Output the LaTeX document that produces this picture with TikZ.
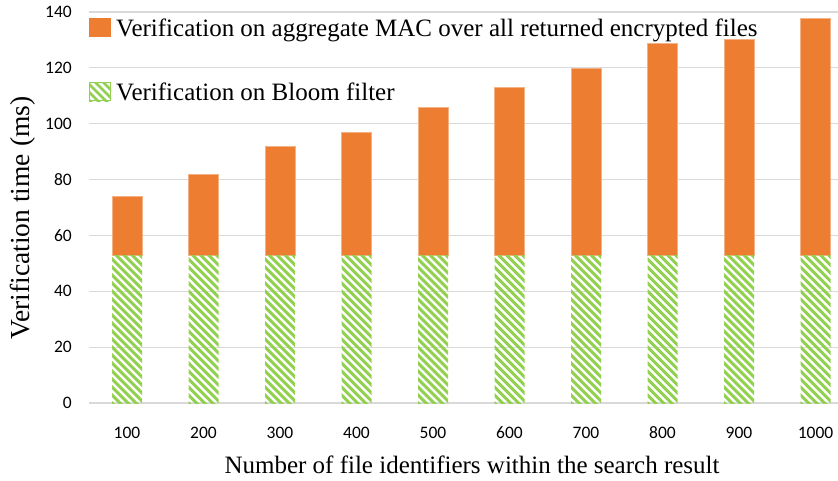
\documentclass[tikz,border=0pt]{standalone}
\usepackage{fontspec}
\setmainfont{Liberation Serif}
\newfontfamily\tickfont{Carlito}
\definecolor{barorange}{HTML}{ED7D31}
\definecolor{bargreen}{HTML}{92D050}
\definecolor{gridgray}{HTML}{D9D9D9}
\tikzset{
  gridline/.style={draw=gridgray, line width=1.2pt},
  ticklabel/.style={font=\tickfont\fontsize{17.5}{20}\selectfont, inner sep=0pt},
  titlelabel/.style={font=\fontsize{25}{28}\selectfont, inner sep=0pt},
  macbar/.style={fill=barorange, draw=barorange!60!white, line width=0.6pt},
  stripe/.style={draw=bargreen, line width=3pt},
}
\begin{document}
\begin{tikzpicture}[x=1pt,y=-1pt]
\useasboundingbox (0,0) rectangle (838,480);

% value axis: 0 at y=403, 2.793 units per ms (pointing up)
\begin{scope}[shift={(0,403)}, y=2.793pt]
  \foreach \v in {0,20,...,140} {
    \draw[gridline] (89,\v) -- (838,\v);
    \node[ticklabel, anchor=east] (ytick\v) at (72,\v) {\v};
  }
  % upper (MAC) segments, from 53 ms up to the total
  \foreach \i/\v in {1/74,2/82,3/92,4/97,5/106,6/113,7/120,8/128.8,9/130.3,10/137.8} {
    \pgfmathsetmacro{\cx}{127+76.5*(\i-1)}
    \path[macbar] (\cx-15,53) rectangle (\cx+15,\v);
  }
\end{scope}

% lower (Bloom filter) segments, hatched, 0..53 ms  => y 255..403
\foreach \i in {1,...,10} {
  \pgfmathsetmacro{\cx}{127+76.5*(\i-1)}
  \begin{scope}
    \clip (\cx-15,255) rectangle (\cx+15,403);
    \foreach \k in {-160,-152,...,24} {
      \draw[stripe] (\cx-15+\k,251) -- ++(170,170);
    }
  \end{scope}
  \node[ticklabel] (xtick\i) at (\cx,433) {\the\numexpr\i*100\relax};
}

% legend
\path[fill=barorange] (89,18) rectangle (111,37);
\node[titlelabel, anchor=base west] (legmac) at (116,36)
  {Verification on aggregate MAC over all returned encrypted files};
\begin{scope}
  \clip (89,82) rectangle (111,101);
  \foreach \k in {-30,-22,...,30} {
    \draw[stripe, line width=2.6pt] (89+\k,78) -- ++(30,30);
  }
\end{scope}
\draw[bargreen, line width=1pt] (89.5,82.5) rectangle (110.5,100.5);
\node[titlelabel, anchor=base west] (legbloom) at (116,100)
  {Verification on Bloom filter};

% axis titles
\node[titlelabel, font=\fontsize{27.5}{30}\selectfont, rotate=90] (ytitle) at (23,218) {Verification time (ms)};
\node[titlelabel] (xtitle) at (472,465) {Number of file identifiers within the search result};
\end{tikzpicture}
\end{document}
